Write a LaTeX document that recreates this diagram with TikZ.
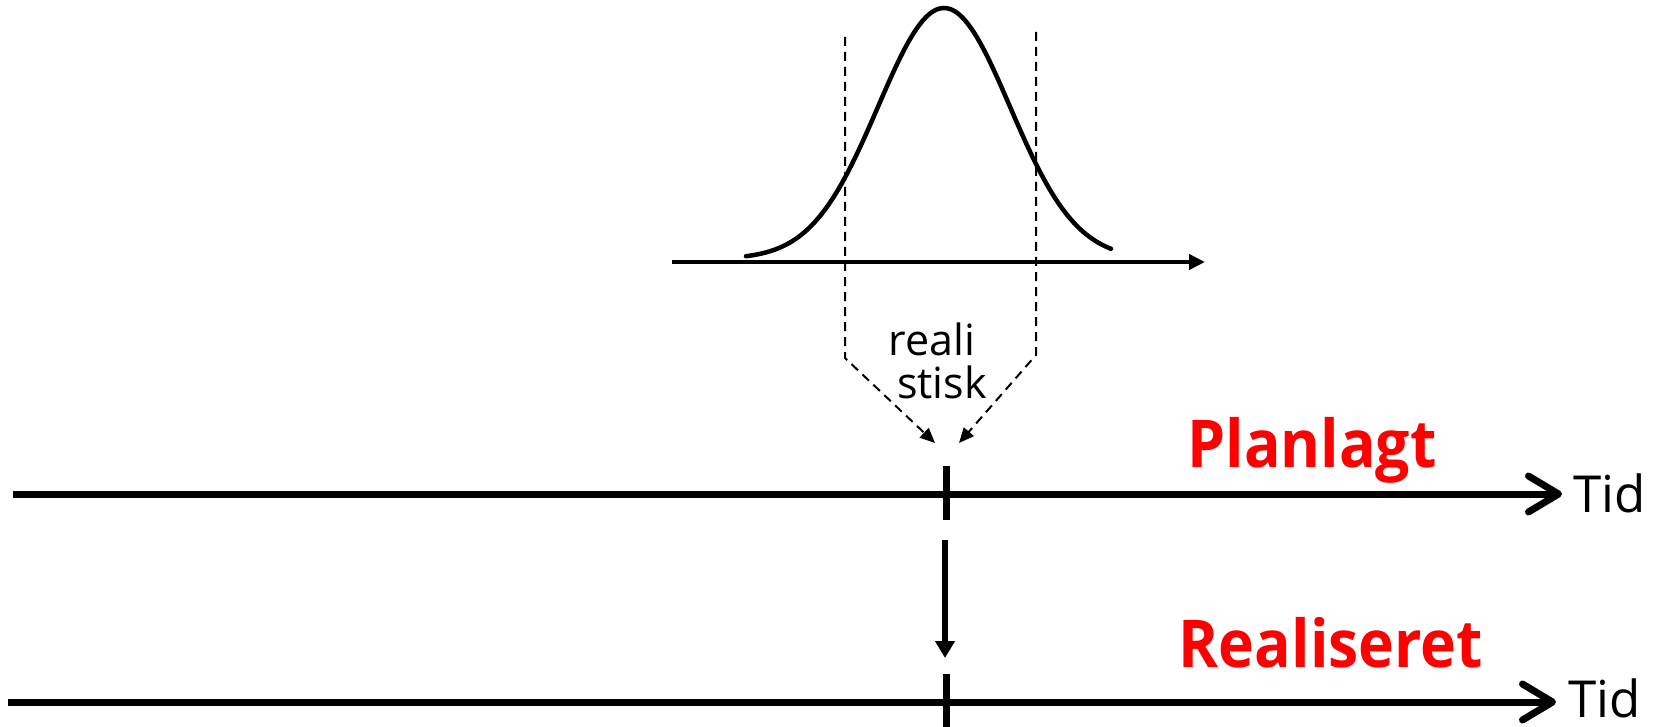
\documentclass[tikz,border=0pt]{standalone}
\usepackage{fontspec}
\setmainfont{Open Sans}
\newfontfamily\redlabelfont[FakeStretch=0.92]{Open Sans}
\usetikzlibrary{arrows.meta}
\begin{document}
\begin{tikzpicture}[x=1pt,y=-1pt,
  timeaxis/.style={line width=7pt,-{Straight Barb[length=30pt,width=36pt,round]}},
  tickmark/.style={line width=7pt},
  guide/.style={line width=2pt,dash pattern=on 9pt off 6pt},
  guidearrow/.style={guide,-{Triangle[length=15pt,width=13pt]}},
  bigarrow/.style={line width=6.5pt,-{Triangle[length=17pt,width=19pt]}},
  redlabel/.style={inner sep=0pt,text=red,font=\redlabelfont\fontsize{66}{66}\selectfont\bfseries},
  tidlabel/.style={inner sep=0pt,text depth=0pt,font=\fontsize{51}{51}\selectfont},
  smalllabel/.style={inner sep=0pt,text depth=0pt,font=\fontsize{43}{43}\selectfont}]
\useasboundingbox (0,0) rectangle (1672,727);
% distribution
\coordinate (ax0) at (672,262);
\coordinate (ax1) at (1205,262);
\draw[line width=4.5pt,-{Triangle[length=16pt,width=15pt]}] (ax0) -- (ax1);
\draw[line width=4.5pt,line cap=round] plot[domain=-3:2.53,samples=90,smooth] ({944+66*\x},{259-251*exp(-\x*\x/2)});
% dashed guides
\coordinate (gl0) at (845,37);
\coordinate (gl1) at (845,358);
\coordinate (gl2) at (935,443);
\coordinate (gr0) at (1036,32);
\coordinate (gr1) at (1036,355);
\coordinate (gr2) at (959,443);
\draw[guidearrow] (gl0) -- (gl1) -- (gl2);
\draw[guidearrow] (gr0) -- (gr1) -- (gr2);
\node[smalllabel,anchor=base] (reali) at (932,355) {reali};
\node[smalllabel,anchor=base] (stisk) at (942,398) {stisk};
% planned axis
\coordinate (p0) at (13,494);
\coordinate (p1) at (1562,494);
\draw[timeaxis] (p0) -- (p1);
\coordinate (pt0) at (946,466);
\coordinate (pt1) at (946,520);
\draw[tickmark] (pt0) -- (pt1);
\node[tidlabel,anchor=base west] (tid1) at (1573,512) {Tid};
\node[redlabel,anchor=base] (plan) at (1312,467) {Planlagt};
% arrow down
\coordinate (v0) at (945,540);
\coordinate (v1) at (945,658);
\draw[bigarrow] (v0) -- (v1);
% realised axis
\coordinate (r0) at (8,702);
\coordinate (r1) at (1556,702);
\draw[timeaxis] (r0) -- (r1);
\coordinate (rt0) at (946,674);
\coordinate (rt1) at (946,727);
\draw[tickmark] (rt0) -- (rt1);
\node[tidlabel,anchor=base west] (tid2) at (1568,717) {Tid};
\node[redlabel,anchor=base] (real) at (1331,667) {Realiseret};
\end{tikzpicture}
\end{document}
